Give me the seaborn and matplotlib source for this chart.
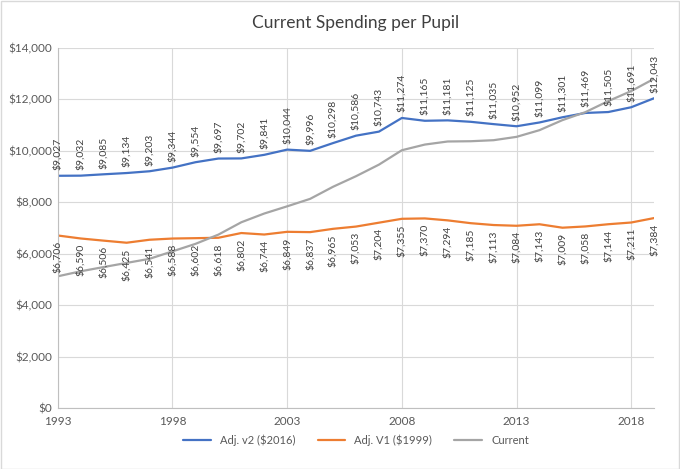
import matplotlib
matplotlib.use("Agg")
import matplotlib.pyplot as plt
import seaborn as sns
import pandas as pd
from matplotlib.ticker import FuncFormatter, MultipleLocator

years = list(range(1993, 2020))
adj_v2 = [9027, 9032, 9085, 9134, 9203, 9344, 9554, 9697, 9702, 9841, 10044, 9996, 10298,
          10586, 10743, 11274, 11165, 11181, 11125, 11035, 10952, 11099, 11301, 11469, 11505,
          11691, 12043]
adj_v1 = [6706, 6590, 6506, 6425, 6541, 6588, 6602, 6618, 6802, 6744, 6849, 6837, 6965,
          7053, 7204, 7355, 7370, 7294, 7185, 7113, 7084, 7143, 7009, 7058, 7144, 7211, 7384]
current = [5120, 5315, 5480, 5640, 5800, 6090, 6380, 6740, 7220, 7560, 7840, 8130, 8600,
           9010, 9460, 10020, 10240, 10360, 10370, 10410, 10540, 10800, 11190, 11500, 11930,
           12320, 12800]
tick_years = [1993, 1998, 2003, 2008, 2013, 2018]
series_names = ["Adj. v2 ($2016)", "Adj. V1 ($1999)", "Current"]
colors = ["#4472C4", "#ED7D31", "#A5A5A5"]

sns.set_theme(style="white")
plt.rcParams['font.family'] = ['Lato', 'DejaVu Sans']

df = pd.DataFrame({
    "Year": years * 3,
    "Value": adj_v2 + adj_v1 + current,
    "Series": [series_names[0]] * len(years) + [series_names[1]] * len(years) + [series_names[2]] * len(years),
})

fig = plt.figure(figsize=(6.8, 4.69), dpi=100)
ax = fig.add_axes([0.085, 0.130, 0.877, 0.768])

sns.lineplot(data=df, x="Year", y="Value", hue="Series", palette=colors,
             hue_order=series_names, linewidth=1.6, ax=ax, legend=True)

label_color = "#404040"
for x, v in zip(years, adj_v2):
    ax.annotate(f"${v:,}", (x, v), xytext=(0, 4), textcoords="offset points",
                rotation=90, ha="center", va="bottom", fontsize=7.5, color=label_color)
for x, v in zip(years, adj_v1):
    ax.annotate(f"${v:,}", (x, v), xytext=(0, -4), textcoords="offset points",
                rotation=90, ha="center", va="top", fontsize=7.5, color=label_color)

ax.set_xlim(1993, 2019)
ax.set_ylim(0, 14000)
ax.set_xticks(tick_years)
ax.set_xticklabels([str(y) for y in tick_years])
ax.yaxis.set_major_locator(MultipleLocator(2000))
ax.yaxis.set_major_formatter(FuncFormatter(lambda v, p: f"${int(v):,}"))
ax.grid(True, color="#D9D9D9", linewidth=0.8)
ax.set_axisbelow(True)
for s in ["top", "right"]:
    ax.spines[s].set_visible(False)
for s in ["left", "bottom"]:
    ax.spines[s].set_color("#BFBFBF")
    ax.spines[s].set_linewidth(0.8)
ax.tick_params(axis="both", labelsize=8.5, colors="#595959", length=0)
ax.tick_params(axis="x", pad=6)
ax.tick_params(axis="y", pad=4)
ax.set_xlabel("")
ax.set_ylabel("")

ax.set_title("Current Spending per Pupil", fontsize=12.5, color="#404040", pad=14)

leg = ax.legend(loc="upper center", bbox_to_anchor=(0.5, -0.045), ncol=3, frameon=False,
                fontsize=8, handlelength=2.5, columnspacing=2.0)
for t in leg.get_texts():
    t.set_color("#595959")

fig.patches.append(plt.Rectangle((0.001, 0.001), 0.997, 0.997, transform=fig.transFigure,
                                 fill=False, edgecolor="#D9D9D9", linewidth=1))

fig.savefig("out.png", dpi=100)
